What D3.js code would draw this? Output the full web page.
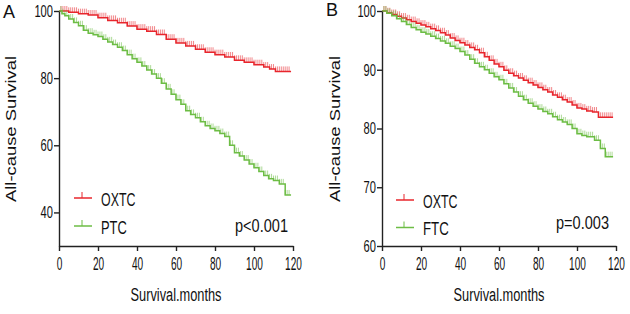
<!DOCTYPE html>
<html>
<head>
<meta charset="utf-8">
<script src="https://cdn.jsdelivr.net/npm/d3@7"></script>
<style>
  html, body { margin: 0; padding: 0; background: #fff; }
  svg { display: block; }
  text { font-family: "Liberation Sans", Arial, sans-serif; fill: #111; }
</style>
</head>
<body>
<div id="chart"></div>
<script>
// data (months, survival %)
const redA_t = [0, 5, 10, 15, 20, 25, 30, 35, 40, 45, 50, 55, 60, 65, 70, 75, 80, 85, 90, 95, 100, 105, 108, 111, 119];
const redA_v = [100, 99.6, 99.2, 98.8, 98, 97.2, 96.5, 95.5, 94.6, 94, 93, 91.6, 90.5, 89.6, 88.6, 87.7, 87, 86.3, 85.3, 84.7, 84, 83.3, 82.7, 82, 82];

const greenA_t = [0, 1.5, 3, 5, 7.5, 10, 12.5, 15, 17.5, 20, 22.5, 25, 27.5, 30, 32.5, 35, 37.5, 40, 42.5, 45, 47.5, 50, 52.5, 55, 57.5, 60, 62.5, 65, 67.5, 70, 72.5, 75, 77.5, 80, 82.5, 85, 87.5, 90, 92.5, 95, 97.5, 100, 102.5, 105, 107.5, 110, 113, 116, 119];
const greenA_v = [100, 99.2, 98.6, 97.6, 96.6, 95.6, 94.3, 93.4, 92.9, 92.4, 91.6, 90.8, 90, 89.2, 88.2, 87, 85.8, 84.7, 83.6, 82.4, 81.2, 80, 78.5, 76.8, 75.2, 73.6, 72.2, 70.3, 69.2, 68.2, 67, 65.8, 65, 64.3, 63.5, 62.6, 60, 57.8, 56.8, 55.6, 54.4, 53.3, 52.2, 51, 50, 49.5, 48.5, 45.2, 45.2];

const redB_t = [0, 2.5, 5, 7.5, 10, 12.5, 15, 17.5, 20, 22.5, 25, 27.5, 30, 32.5, 35, 37.5, 40, 42.5, 45, 47.5, 50, 52.5, 55, 57.5, 60, 62.5, 65, 67.5, 70, 72.5, 75, 77.5, 80, 82.5, 85, 87.5, 90, 92.5, 95, 97.5, 100, 102.5, 105, 108, 111, 118.5];
const redB_v = [100, 99.7, 99.4, 99.1, 98.8, 98.5, 98.2, 97.9, 97.6, 97.3, 97, 96.7, 96.3, 95.9, 95.4, 95, 94.6, 94.2, 93.8, 93.4, 92.9, 92.2, 91.6, 91, 90.5, 89.9, 89.4, 89, 88.6, 88.2, 87.8, 87.4, 87, 86.6, 86.2, 85.7, 85.3, 84.9, 84.5, 84, 83.5, 83.3, 83, 82.8, 81.9, 81.9];

const greenB_t = [0, 2.5, 5, 7.5, 10, 12.5, 15, 17.5, 20, 22.5, 25, 27.5, 30, 32.5, 35, 37.5, 40, 42.5, 45, 47.5, 50, 52.5, 55, 57.5, 60, 62.5, 65, 67.5, 70, 72.5, 75, 77.5, 80, 82.5, 85, 87.5, 90, 92.5, 95, 97.5, 100, 102.5, 105, 109, 112, 114.5, 118.5];
const greenB_v = [100, 99.6, 99.2, 98.7, 98.2, 97.7, 97.2, 96.8, 96.4, 96.1, 95.7, 95.3, 94.9, 94.5, 94, 93.6, 93.1, 92.5, 91.8, 91.1, 90.5, 90, 89.4, 88.8, 88.3, 87.6, 86.9, 86.2, 85.5, 84.9, 84.3, 83.8, 83.3, 82.9, 82.5, 82, 81.5, 81.1, 80.7, 80, 79.1, 78.8, 78.6, 78, 76.6, 75.2, 75.2];

// censoring marks, roughly one per month
const censorMonths = [1, 2, 3, 4, 5, 6, 7, 8, 9, 10, 11, 12, 13, 14, 15, 16, 17, 18, 19, 20,
  21, 22, 23, 24, 25, 26, 27, 28, 29, 30, 31, 32, 33, 34, 35, 36, 37, 38, 39, 40,
  41, 42, 43, 44, 45, 46, 47, 48, 49, 50, 51, 52, 53, 54, 55, 56, 57, 58, 59, 60,
  61, 62, 63, 64, 65, 66, 67, 68, 69, 70, 71, 72, 73, 74, 75, 76, 77, 78, 79, 80,
  81, 82, 83, 84, 85, 86, 87, 88, 89, 90, 91, 92, 93, 94, 95, 96, 97, 98, 99, 100,
  101, 102, 103, 104, 105, 106, 107, 108, 109, 110, 111, 112, 113, 114, 115, 116, 117, 118];

const xTicks = [0, 20, 40, 60, 80, 100, 120];
const yTicksA = [40, 60, 80, 100];
const yTicksB = [60, 70, 80, 90, 100];
const groupsA = ['OXTC', 'PTC'];
const groupsB = ['OXTC', 'FTC'];
const pA = 'p<0.001';
const pB = 'p=0.003';

const red = '#e8262d';
const green = '#6dbd45';

const $svg = d3.select('#chart').append('svg')
  .attr('width', 630)
  .attr('height', 314);

function stretch(sel, perChar) {
  sel.attr('textLength', function () { return this.textContent.length * perChar; })
    .attr('lengthAdjust', 'spacingAndGlyphs');
}

function drawPanel(opts) {
  const xScale = d3.scaleLinear().domain([0, 120]).range([opts.left, opts.right]);
  const yScale = d3.scaleLinear().domain(opts.yDomain).range([246, 11]);

  const $g = $svg.append('g');

  // curves
  const line = d3.line()
    .x(d => xScale(d[0]))
    .y(d => yScale(d[1]))
    .curve(d3.curveStepAfter);

  opts.series.forEach(s => {
    const pts = d3.zip(s.t, s.v);
    const last = s.t[s.t.length - 1];

    $g.append('path')
      .datum(pts)
      .attr('d', line)
      .attr('fill', 'none')
      .attr('stroke', s.color)
      .attr('stroke-width', 1.5);

    const marks = censorMonths.filter(m => m < last);
    $g.selectAll(null)
      .data(marks)
      .enter()
      .append('line')
      .attr('x1', d => xScale(d))
      .attr('x2', d => xScale(d))
      .attr('y1', d => yScale(s.v[d3.bisectRight(s.t, d) - 1]))
      .attr('y2', d => yScale(s.v[d3.bisectRight(s.t, d) - 1]) - 5)
      .attr('stroke', s.color)
      .attr('stroke-width', 1)
      .style('opacity', 0.55);
  });

  // axes
  const $yAxis = $g.append('g')
    .attr('transform', `translate(${opts.left},0)`)
    .call(d3.axisLeft(yScale).tickValues(opts.yTicks).tickSize(5).tickSizeOuter(0).tickPadding(1));
  const $xAxis = $g.append('g')
    .attr('transform', 'translate(0,246)')
    .call(d3.axisBottom(xScale).tickValues(xTicks).tickSize(5).tickSizeOuter(0).tickPadding(6));

  [$yAxis, $xAxis].forEach($a => {
    $a.selectAll('path, line').attr('stroke', '#222').attr('stroke-width', 1.4);
    $a.selectAll('text').style('font-size', '17px').attr('fill', '#111');
  });
  $yAxis.selectAll('text').call(stretch, 6.2);
  $xAxis.selectAll('text').style('font-size', '18px').call(stretch, 5.6);

  // titles
  $g.append('text')
    .attr('x', (opts.left + opts.right) / 2)
    .attr('y', 301)
    .attr('text-anchor', 'middle')
    .style('font-size', '18px')
    .attr('textLength', 91)
    .attr('lengthAdjust', 'spacingAndGlyphs')
    .text('Survival.months');

  $g.append('text')
    .attr('transform', `translate(${opts.titleX},129) rotate(-90)`)
    .attr('text-anchor', 'middle')
    .style('font-size', '14px')
    .attr('textLength', 146)
    .attr('lengthAdjust', 'spacingAndGlyphs')
    .text('All-cause Survival');

  $g.append('text')
    .attr('x', opts.letterX)
    .attr('y', opts.letterY)
    .style('font-size', '18px')
    .text(opts.letter);

  // legend
  opts.groups.forEach((name, i) => {
    const ly = opts.legendY[i];
    const color = opts.series[i].color;
    $g.append('line')
      .attr('x1', opts.legendX).attr('x2', opts.legendX + 18)
      .attr('y1', ly).attr('y2', ly)
      .attr('stroke', color).attr('stroke-width', 1.5);
    $g.append('line')
      .attr('x1', opts.legendX + 8).attr('x2', opts.legendX + 8)
      .attr('y1', ly).attr('y2', ly - 6)
      .attr('stroke', color).attr('stroke-width', 1);
    $g.append('text')
      .attr('x', opts.legendX + 27)
      .attr('y', ly + 7.5)
      .style('font-size', '19px')
      .text(name)
      .call(stretch, 8.6);
  });

  $g.append('text')
    .attr('x', opts.pX)
    .attr('y', opts.pY)
    .style('font-size', '19px')
    .attr('textLength', 53)
    .attr('lengthAdjust', 'spacingAndGlyphs')
    .text(opts.p);
}

drawPanel({
  left: 59, right: 293, yDomain: [30, 100], yTicks: yTicksA,
  series: [{ t: redA_t, v: redA_v, color: red }, { t: greenA_t, v: greenA_v, color: green }],
  groups: groupsA, legendX: 74, legendY: [198, 226],
  p: pA, pX: 235, pY: 232,
  titleX: 16, letter: 'A', letterX: 3, letterY: 18
});

drawPanel({
  left: 382, right: 616, yDomain: [60, 100], yTicks: yTicksB,
  series: [{ t: redB_t, v: redB_v, color: red }, { t: greenB_t, v: greenB_v, color: green }],
  groups: groupsB, legendX: 396, legendY: [200, 227.5],
  p: pB, pX: 556, pY: 229,
  titleX: 340, letter: 'B', letterX: 326, letterY: 16
});
</script>
</body>
</html>
